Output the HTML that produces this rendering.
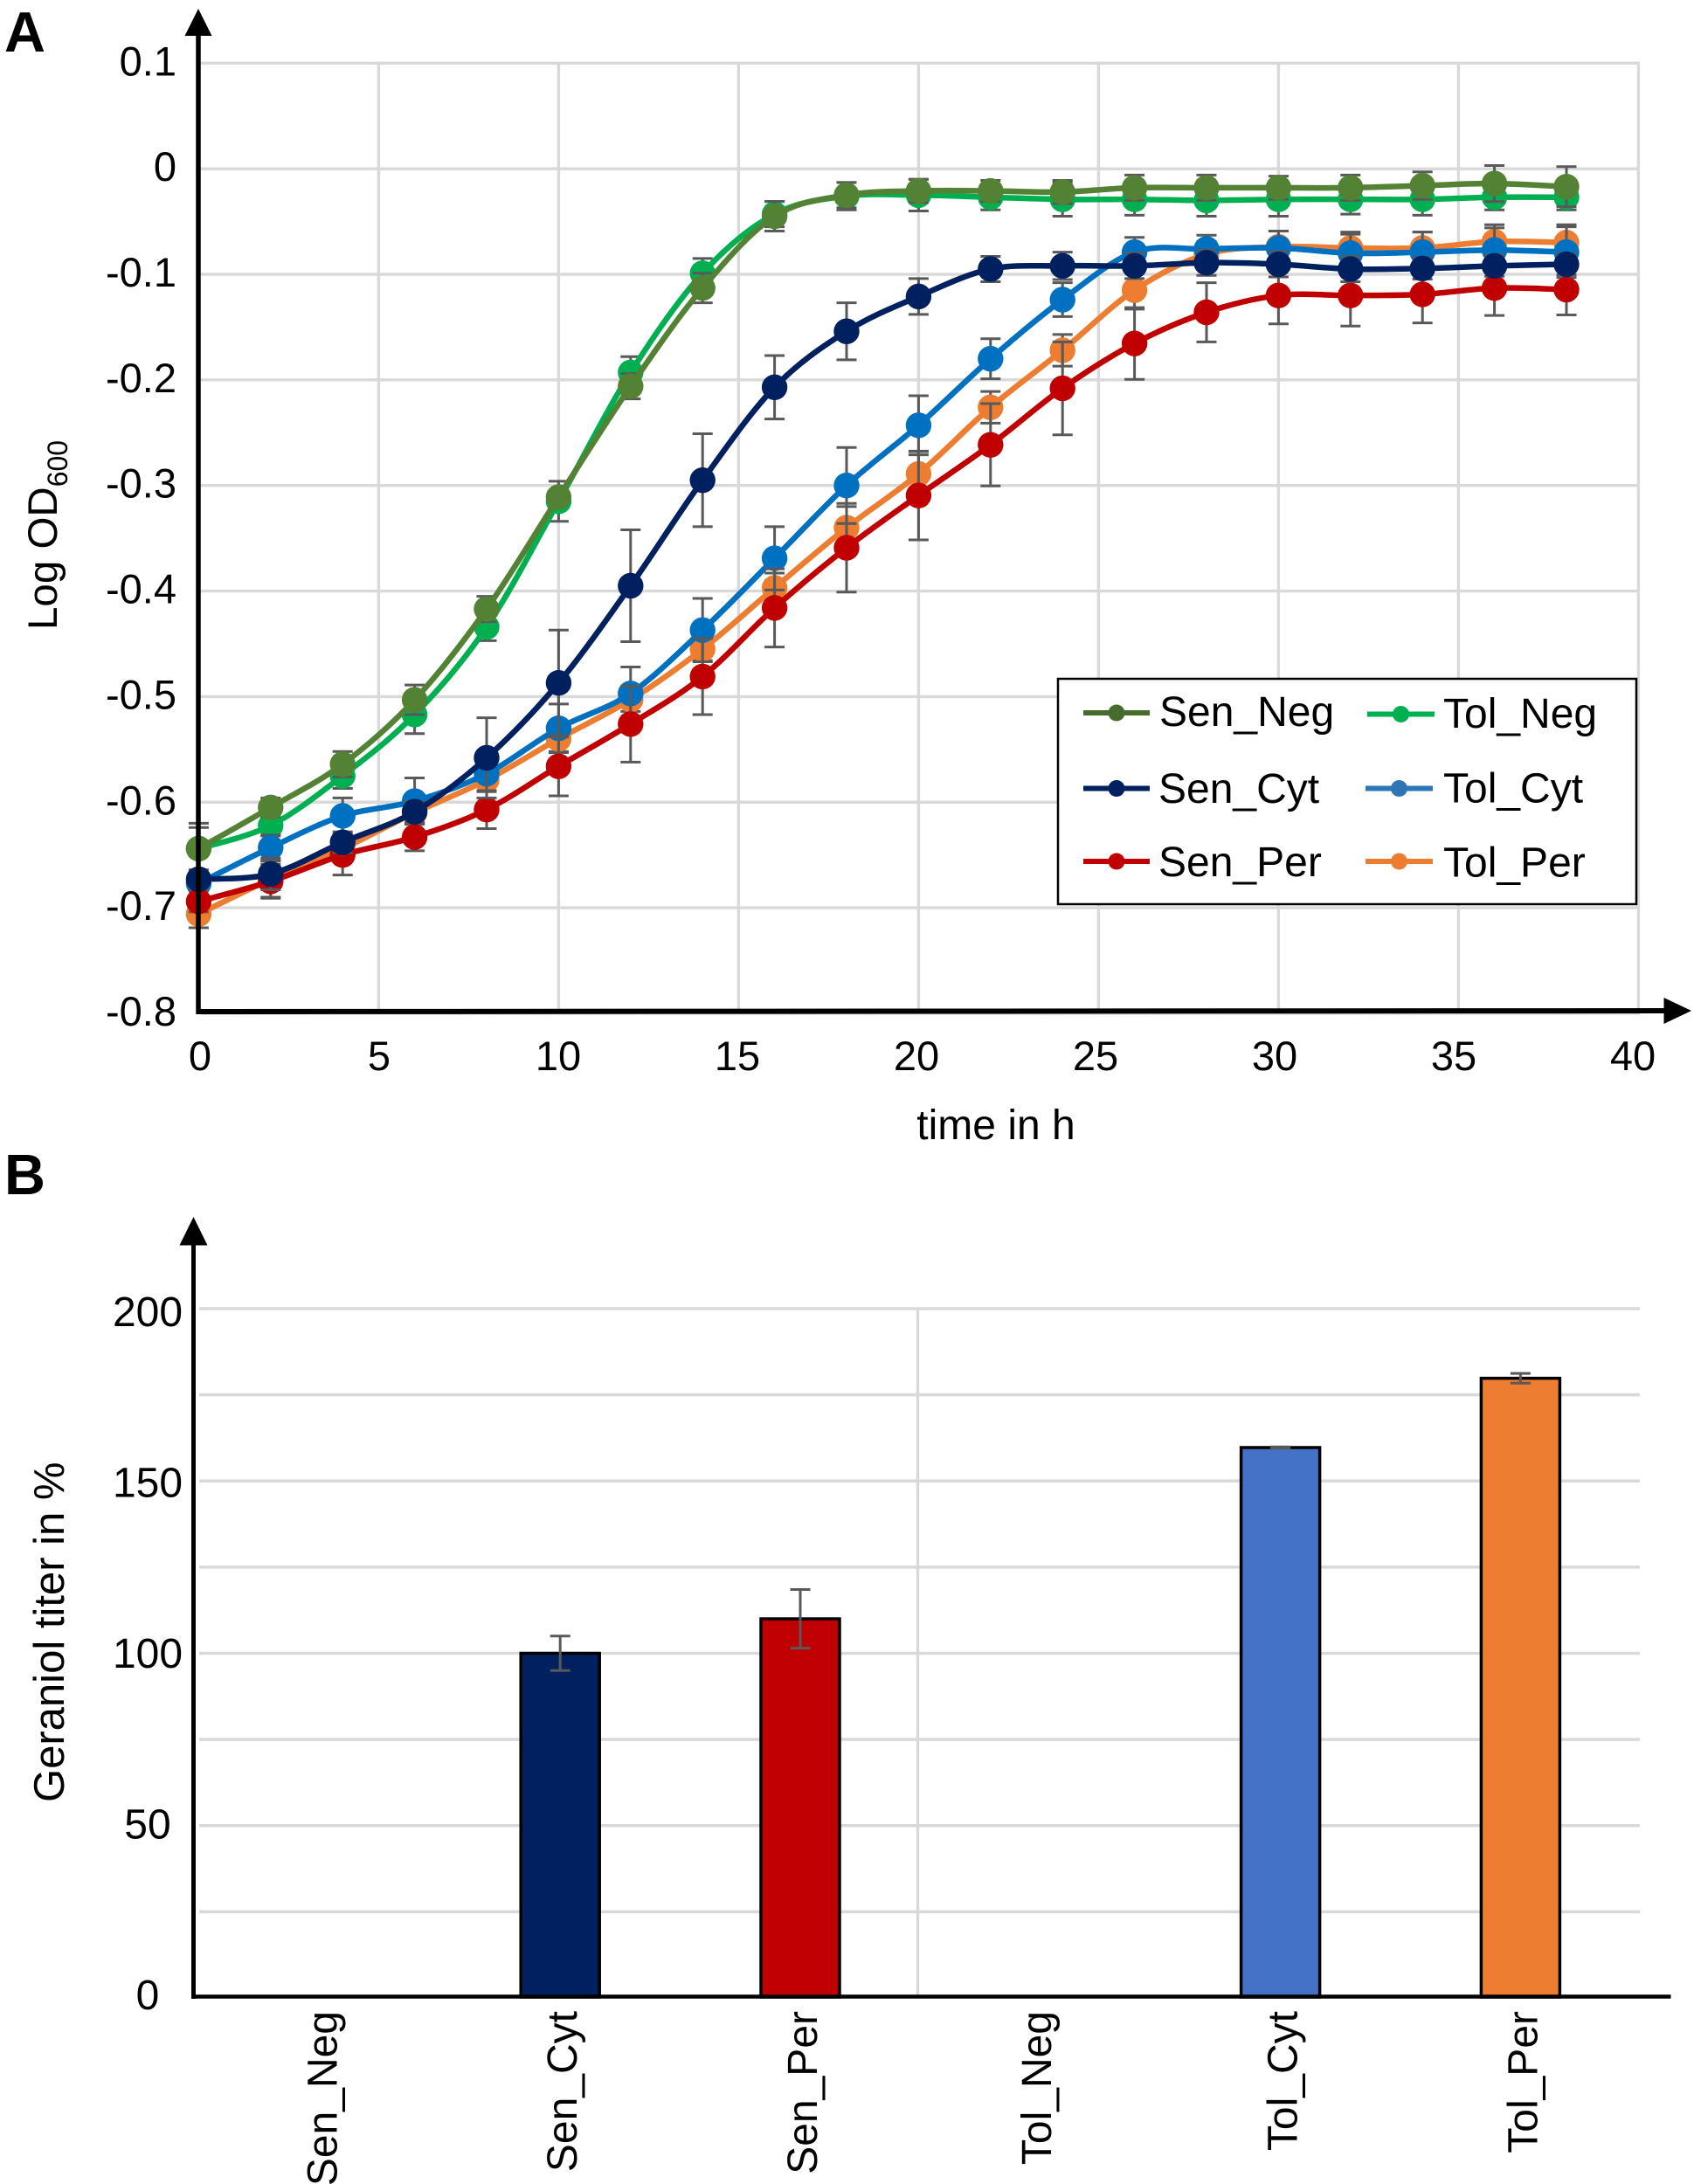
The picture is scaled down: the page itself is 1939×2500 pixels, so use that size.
<!DOCTYPE html>
<html lang="en">
<head>
<meta charset="utf-8">
<title>Growth curves and geraniol titer</title>
<style>
  html, body { margin: 0; padding: 0; background: #ffffff; }
  svg { display: block; font-family: "Liberation Sans", Arial, sans-serif; fill: #000000; }
</style>
</head>
<body>
<svg id="figure" xmlns="http://www.w3.org/2000/svg" width="1939" height="2500" viewBox="0 0 1939 2500">
  <rect x="0" y="0" width="1939" height="2500" fill="#ffffff"/>

  <text x="5" y="59" font-size="65" font-weight="700">A</text>
  <text x="5" y="1367" font-size="65" font-weight="700">B</text>

  <g id="growth-chart">
    <g id="growth-grid"></g>
    <g id="growth-series"></g>
    <g id="growth-ticks"></g>
    <line x1="227" y1="35" x2="227" y2="1161" stroke="#000" stroke-width="5.5"/>
    <polygon points="227,10 211.5,41 242.5,41" fill="#000"/>
    <line x1="224.5" y1="1158" x2="1910" y2="1157" stroke="#000" stroke-width="6"/>
    <polygon points="1936,1157 1904.5,1142 1904.5,1172" fill="#000"/>
    <text x="1140" y="1304" font-size="48" text-anchor="middle">time in h</text>
    <text transform="translate(65,721) rotate(-90)" font-size="47.5">Log OD<tspan font-size="32" dy="12">600</tspan></text>

    <g>
      <rect x="1211" y="777" width="662" height="258" fill="#ffffff" stroke="#000" stroke-width="2.5"/>

      <g>
        <line x1="1240" y1="816" x2="1316" y2="816" stroke="#476B2D" stroke-width="6"/>
        <circle cx="1278" cy="816" r="9.5" fill="#476B2D"/>
        <text x="1327" y="831" font-size="48">Sen_Neg</text>
      </g>
      <g>
        <line x1="1240" y1="902.5" x2="1316" y2="902.5" stroke="#002060" stroke-width="6"/>
        <circle cx="1278" cy="902.5" r="9.5" fill="#002060"/>
        <text x="1326" y="919" font-size="48">Sen_Cyt</text>
      </g>
      <g>
        <line x1="1240" y1="986" x2="1316" y2="986" stroke="#C00000" stroke-width="6"/>
        <circle cx="1278" cy="986" r="9.5" fill="#C00000"/>
        <text x="1326" y="1003" font-size="48">Sen_Per</text>
      </g>
      <g>
        <line x1="1565" y1="817.5" x2="1642" y2="817.5" stroke="#00B050" stroke-width="6"/>
        <circle cx="1603.5" cy="817.5" r="9.5" fill="#00B050"/>
        <text x="1652" y="833" font-size="48">Tol_Neg</text>
      </g>
      <g>
        <line x1="1563" y1="902.5" x2="1640" y2="902.5" stroke="#2E75B6" stroke-width="6"/>
        <circle cx="1601.5" cy="902.5" r="9.5" fill="#2E75B6"/>
        <text x="1652" y="918.5" font-size="48">Tol_Cyt</text>
      </g>
      <g>
        <line x1="1563" y1="986" x2="1640" y2="986" stroke="#ED7D31" stroke-width="6"/>
        <circle cx="1601.5" cy="986" r="9.5" fill="#ED7D31"/>
        <text x="1652" y="1003.5" font-size="48">Tol_Per</text>
      </g>
    </g>
  </g>

  <g id="titer-chart">
    <g id="titer-grid"></g>
    <line x1="1050.5" y1="1500" x2="1050.5" y2="2285" stroke="#d9d9d9" stroke-width="3.4"/>
    <g id="titer-bars"></g>
    <g id="titer-ticks"></g>
    <line x1="221.5" y1="1420" x2="221.5" y2="2288" stroke="#000" stroke-width="5"/>
    <polygon points="221.5,1393 205.5,1425.5 237.5,1425.5" fill="#000"/>
    <line x1="219" y1="2285.5" x2="1912.5" y2="2285.5" stroke="#000" stroke-width="4.5"/>
    <text transform="translate(73,2063) rotate(-90)" font-size="49">Geraniol titer in %</text>
  </g>
</svg>

<script>
// ---------- Panel A data ----------
const hours = [0,2,4,6,8,10,12,14,16,18,20,22,24,26,28,30,32,34,36,38];
const growthYTicks = [0.1,0,-0.1,-0.2,-0.3,-0.4,-0.5,-0.6,-0.7,-0.8];
const growthYTickLabels = ['0.1','0','-0.1','-0.2','-0.3','-0.4','-0.5','-0.6','-0.7','-0.8'];
const growthXTicks = [0,5,10,15,20,25,30,35,40];

const senNeg = [-0.644,-0.605,-0.564,-0.503,-0.417,-0.311,-0.206,-0.113,-0.045,-0.025,-0.021,-0.021,-0.022,-0.018,-0.018,-0.018,-0.018,-0.016,-0.014,-0.017];
const senNegErr = [0.024,0.009,0.012,0.014,0.012,0.006,0.012,0.014,0.014,0.012,0.011,0.010,0.011,0.012,0.012,0.011,0.012,0.013,0.017,0.019];
const tolNeg = [-0.644,-0.622,-0.575,-0.517,-0.434,-0.315,-0.193,-0.099,-0.043,-0.026,-0.025,-0.027,-0.029,-0.029,-0.030,-0.029,-0.029,-0.029,-0.027,-0.027];
const tolNegErr = [0.020,0.010,0.012,0.018,0.013,0.019,0.015,0.014,0.012,0.013,0.015,0.012,0.016,0.015,0.015,0.016,0.014,0.015,0.012,0.012];
const senCyt = [-0.673,-0.668,-0.638,-0.609,-0.558,-0.487,-0.395,-0.295,-0.207,-0.154,-0.121,-0.095,-0.092,-0.092,-0.089,-0.0905,-0.095,-0.0945,-0.092,-0.0905];
const senCytErr = [0.005,0.015,0.010,0.010,0.038,0.050,0.053,0.044,0.030,0.027,0.017,0.012,0.013,0.012,0.012,0.012,0.012,0.010,0.010,0.010];
const tolCyt = [-0.677,-0.643,-0.613,-0.599,-0.573,-0.530,-0.497,-0.437,-0.369,-0.300,-0.243,-0.180,-0.124,-0.079,-0.076,-0.075,-0.080,-0.079,-0.077,-0.079];
const tolCytErr = [0.005,0.012,0.017,0.022,0.017,0.023,0.025,0.030,0.030,0.036,0.028,0.019,0.016,0.014,0.013,0.016,0.018,0.019,0.021,0.024];
const senPer = [-0.694,-0.675,-0.650,-0.633,-0.607,-0.566,-0.526,-0.481,-0.416,-0.359,-0.3095,-0.2615,-0.208,-0.1655,-0.136,-0.120,-0.120,-0.119,-0.113,-0.1145];
const senPerErr = [0.010,0.016,0.019,0.013,0.018,0.028,0.036,0.036,0.037,0.042,0.042,0.039,0.044,0.034,0.028,0.027,0.029,0.027,0.026,0.024];
const tolPer = [-0.706,-0.673,-0.644,-0.610,-0.579,-0.540,-0.503,-0.455,-0.397,-0.340,-0.289,-0.226,-0.172,-0.115,-0.081,-0.074,-0.075,-0.075,-0.069,-0.070];
const tolPerErr = [0.013,0.017,0.010,0.010,0.011,0.012,0.011,0.011,0.014,0.020,0.021,0.015,0.015,0.018,0.012,0.015,0.015,0.015,0.016,0.017];

// ---------- Panel B data ----------
const titerCategories = ['Sen_Neg','Sen_Cyt','Sen_Per','Tol_Neg','Tol_Cyt','Tol_Per'];
const titerValues = [0,100,110,0,159.7,179.8];
const titerErrors = [0,5,8.5,0,0.2,1.4];
const titerColors = ['#548235','#002060','#C00000','#00B050','#4472C4','#ED7D31'];
const titerGridValues = [200,175,150,125,100,75,50,25];
const titerTickValues = [200,150,100,50,0];

const NS = 'http://www.w3.org/2000/svg';
function mk(parent, tag, attrs, text) {
  const el = document.createElementNS(NS, tag);
  for (const k in attrs) el.setAttribute(k, attrs[k]);
  if (text !== undefined) el.textContent = text;
  parent.appendChild(el);
  return el;
}

// ---------- Panel A axes ----------
function xA(t) { return 227.4 + t * 41.2; }
function yA(v) { return 72.3 + (0.1 - v) * 1208.5; }
function xALabel(t) { return 229 + t * 41.0; }

const growthGrid = document.getElementById('growth-grid');
const growthTicks = document.getElementById('growth-ticks');
const growthSeriesLayer = document.getElementById('growth-series');

growthYTicks.forEach(function (v, i) {
  const ln = mk(growthGrid, 'line', {x1: 230, x2: xA(40) + 1.5, y1: yA(v), y2: yA(v), stroke: '#d9d9d9', 'stroke-width': 3.4});
  
  
  const tx = mk(growthTicks, 'text', {x: 202, y: yA(v) + 14, 'font-size': 47, 'text-anchor': 'end'}, growthYTickLabels[i]);
  
  
});
growthXTicks.forEach(function (t) {
  if (t > 0) {
    const ln = mk(growthGrid, 'line', {x1: xA(t), x2: xA(t), y1: yA(0.1) - 1.5, y2: 1158, stroke: '#d9d9d9', 'stroke-width': 3.4});
    
    
  }
  const tx = mk(growthTicks, 'text', {x: xALabel(t), y: 1225, 'font-size': 47, 'text-anchor': 'middle'}, String(t));
  
  
});

function smoothPath(points) {
  let d = 'M' + points[0][0].toFixed(2) + ' ' + points[0][1].toFixed(2);
  for (let i = 0; i < points.length - 1; i++) {
    const p0 = points[Math.max(i - 1, 0)];
    const p1 = points[i];
    const p2 = points[i + 1];
    const p3 = points[Math.min(i + 2, points.length - 1)];
    const c1x = p1[0] + (p2[0] - p0[0]) / 6;
    const c1y = p1[1] + (p2[1] - p0[1]) / 6;
    const c2x = p2[0] - (p3[0] - p1[0]) / 6;
    const c2y = p2[1] - (p3[1] - p1[1]) / 6;
    d += 'C' + c1x.toFixed(2) + ' ' + c1y.toFixed(2) + ' ' + c2x.toFixed(2) + ' ' + c2y.toFixed(2) + ' ' + p2[0].toFixed(2) + ' ' + p2[1].toFixed(2);
  }
  return d;
}

function drawSeries(key, values, errors, color) {
  const g = mk(growthSeriesLayer, 'g', {});
  
  
  values.forEach(function (v, i) {
    const x = xA(hours[i]);
    const top = yA(v + errors[i]);
    const bot = yA(v - errors[i]);
    const bar = mk(g, 'path', {
      d: 'M' + x + ' ' + top + 'V' + bot + 'M' + (x - 11.5) + ' ' + top + 'H' + (x + 11.5) + 'M' + (x - 11.5) + ' ' + bot + 'H' + (x + 11.5),
      stroke: '#595959', 'stroke-width': 3, fill: 'none'
    });
    
    
  });
  const pts = values.map(function (v, i) { return [xA(hours[i]), yA(v)]; });
  const line = mk(g, 'path', {d: smoothPath(pts), fill: 'none', stroke: color, 'stroke-width': 6.5, 'stroke-linejoin': 'round'});
  
  
  values.forEach(function (v, i) {
    const dot = mk(g, 'circle', {cx: xA(hours[i]), cy: yA(v), r: 14.7, fill: color});
    
    
  });
}

drawSeries('tol-neg', tolNeg, tolNegErr, '#00B050');
drawSeries('sen-neg', senNeg, senNegErr, '#548235');
drawSeries('tol-per', tolPer, tolPerErr, '#ED7D31');
drawSeries('tol-cyt', tolCyt, tolCytErr, '#0070C0');
drawSeries('sen-per', senPer, senPerErr, '#C00000');
drawSeries('sen-cyt', senCyt, senCytErr, '#002060');

// ---------- Panel B axes ----------
const BAND = 274.8;
function xB(i) { return 229 + BAND * (i + 0.5); }
function yB(v) { return 2287 - v * 3.945; }
function yBLabel(v) { return 2300 - v * 3.91; }

const titerGrid = document.getElementById('titer-grid');
const titerTicks = document.getElementById('titer-ticks');
const titerBars = document.getElementById('titer-bars');

titerGridValues.forEach(function (v) {
  const ln = mk(titerGrid, 'line', {x1: 228, x2: 1877, y1: yB(v), y2: yB(v), stroke: '#d9d9d9', 'stroke-width': 3.4});
  
  
});
titerTickValues.forEach(function (v) {
  const tx = mk(titerTicks, 'text', {x: 169, y: yBLabel(v), 'font-size': 48, 'text-anchor': 'middle'}, String(v));
  
  
});

titerCategories.forEach(function (cat, i) {
  const cx = xB(i);
  const v = titerValues[i];
  if (v > 0) {
    const bar = mk(titerBars, 'rect', {x: cx - 45, y: yB(v), width: 90, height: yB(0) - yB(v) - 1, fill: titerColors[i], stroke: '#000', 'stroke-width': 3.5});
    
    
    const top = yB(v + titerErrors[i]);
    const bot = yB(v - titerErrors[i]);
    const err = mk(titerBars, 'path', {
      d: 'M' + cx + ' ' + top + 'V' + bot + 'M' + (cx - 11.5) + ' ' + top + 'H' + (cx + 11.5) + 'M' + (cx - 11.5) + ' ' + bot + 'H' + (cx + 11.5),
      stroke: '#595959', 'stroke-width': 3, fill: 'none'
    });
    
    
  }
  const lx = cx + (cat === 'Tol_Neg' ? 12 : 19);
  const label = mk(titerTicks, 'text', {transform: 'translate(' + lx + ',2302) rotate(-90)', 'font-size': 48, 'text-anchor': 'end'}, cat);
  
  
});
</script>
</body>
</html>
